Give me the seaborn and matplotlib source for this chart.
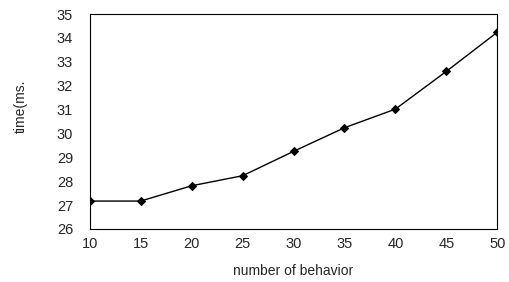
import matplotlib
matplotlib.use("Agg")
import matplotlib.pyplot as plt
import seaborn as sns
import pandas as pd

# values
behaviors = [10, 15, 20, 25, 30, 35, 40, 45, 50]
times = [27.17, 27.17, 27.81, 28.23, 29.25, 30.24, 31.02, 32.6, 34.24]

df = pd.DataFrame({"behavior": behaviors, "time": times})

sns.set_style("white")
plt.rcParams['font.family'] = ['Liberation Sans', 'DejaVu Sans']

fig = plt.figure(figsize=(5.1, 2.82), dpi=100)
ax = fig.add_axes([0.176, 0.188, 0.799, 0.762])

sns.lineplot(data=df, x="behavior", y="time", ax=ax, color="black",
             marker="D", markersize=4.5, linewidth=1, markeredgecolor="black")

ax.set_xlim(10, 50)
ax.set_ylim(26, 35)
ax.set_xticks(behaviors)
ax.set_yticks(range(26, 36))
ax.tick_params(axis="both", length=0, labelsize=10.5)
ax.tick_params(axis="y", pad=12)
ax.tick_params(axis="x", pad=6)
ax.set_xlabel("number of behavior", fontsize=10, labelpad=9)
ax.set_ylabel("time(ms.", fontsize=10)
ax.yaxis.set_label_coords(-0.152, 0.57)
for s in ax.spines.values():
    s.set_color("black")
    s.set_linewidth(0.8)

fig.savefig("out.png", dpi=100)
